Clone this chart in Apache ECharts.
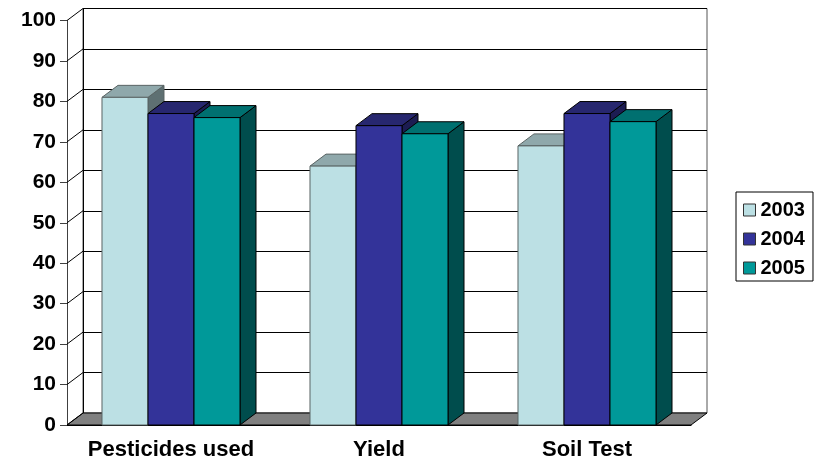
<!DOCTYPE html>
<html>
<head>
<meta charset="utf-8">
<script src="https://cdn.jsdelivr.net/npm/echarts@6/dist/echarts.min.js"></script>
<style>
  html, body { margin: 0; padding: 0; background: #fff; }
  #main { width: 825px; height: 464px; }
</style>
</head>
<body>
<div id="main"></div>
<script>
var categories = ['Pesticides used', 'Yield', 'Soil Test'];
var years = ['2003', '2004', '2005'];
var values2003 = [81, 64, 69];
var values2004 = [77, 74, 77];
var values2005 = [76, 72, 75];
var yTicks = [0, 10, 20, 30, 40, 50, 60, 70, 80, 90, 100];

var seriesValues = [values2003, values2004, values2005];
var frontColors = ['#BCE0E4', '#333399', '#009999'];
var topColors = ['#8FA8AB', '#27276F', '#007070'];
var sideColors = ['#5E7072', '#1C1C52', '#004D4D'];
var edgeColors = ['#5a6464', '#000000', '#000000'];

// depth of the 3d look
var DX = 16, DY = 12;
var FONT = 'Arial, "Liberation Sans", sans-serif';

var dom = document.getElementById('main');
var myChart = echarts.init(dom);

function barRenderer(k) {
    return function (params, api) {
        var c = api.coord([api.value(0), api.value(1)]);
        var base = api.coord([api.value(0), 0]);
        var band = api.size([1, 0])[0];
        var bw = band * 0.2212;
        var x0 = c[0] - 1.5 * bw + k * bw;
        var yTop = c[1], yBot = base[1];
        var st = { stroke: edgeColors[k], lineWidth: 1 };
        return {
            type: 'group',
            children: [
                { type: 'polygon', shape: { points: [[x0 + bw, yTop], [x0 + bw + DX, yTop - DY], [x0 + bw + DX, yBot - DY], [x0 + bw, yBot]] },
                  style: Object.assign({ fill: sideColors[k] }, st) },
                { type: 'polygon', shape: { points: [[x0, yTop], [x0 + bw, yTop], [x0 + bw + DX, yTop - DY], [x0 + DX, yTop - DY]] },
                  style: Object.assign({ fill: topColors[k] }, st) },
                { type: 'rect', shape: { x: x0, y: yTop, width: bw, height: yBot - yTop },
                  style: Object.assign({ fill: frontColors[k] }, st) }
            ]
        };
    };
}

var series = [];
// floor
series.push({
    type: 'custom',
    name: 'floor',
    z: 1,
    silent: true,
    data: [[0, 0]],
    renderItem: function (params, api) {
        var cs = params.coordSys;
        var yb = cs.y + cs.height;
        return {
            type: 'polygon',
            shape: { points: [[cs.x, yb], [cs.x + cs.width, yb], [cs.x + cs.width + DX, yb - DY], [cs.x + DX, yb - DY]] },
            style: { fill: '#808080', stroke: '#000', lineWidth: 1 }
        };
    }
});
// side wall diagonals
series.push({
    type: 'custom',
    name: 'wall',
    z: 1,
    silent: true,
    data: yTicks.map(function (v) { return [0, v]; }),
    renderItem: function (params, api) {
        var cs = params.coordSys;
        var y = api.coord([0, api.value(1)])[1];
        return {
            type: 'line',
            shape: { x1: cs.x, y1: y, x2: cs.x + DX, y2: y - DY },
            style: { stroke: '#000', lineWidth: 1 }
        };
    }
});
for (var k = 0; k < 3; k++) {
    series.push({
        type: 'custom',
        name: years[k],
        z: 3,
        itemStyle: { color: frontColors[k] },
        encode: { x: 0, y: 1 },
        data: seriesValues[k].map(function (v, i) { return [i, v]; }),
        renderItem: barRenderer(k)
    });
}

var option = {
    animation: false,
    backgroundColor: '#fff',
    grid: [
        { left: 67, right: 134, top: 20.5, bottom: 39 },
        { left: 83, right: 118, top: 8.5, bottom: 51, show: true, borderColor: '#555', borderWidth: 1, backgroundColor: 'transparent' }
    ],
    xAxis: [
        {
            type: 'category', gridIndex: 0, data: categories,
            axisLine: { lineStyle: { color: '#000' } },
            axisTick: { length: 7, lineStyle: { color: '#000' } },
            axisLabel: { interval: 0, color: '#000', fontFamily: FONT, fontWeight: 'bold', fontSize: 22, margin: 14 }
        },
        { type: 'category', gridIndex: 1, data: categories, show: false }
    ],
    yAxis: [
        {
            type: 'value', gridIndex: 0, min: 0, max: 100, interval: 10,
            axisLine: { show: true, lineStyle: { color: '#404040' } },
            axisTick: { show: true, length: 7, lineStyle: { color: '#404040' } },
            splitLine: { show: false },
            axisLabel: { color: '#000', fontFamily: FONT, fontWeight: 'bold', fontSize: 21, margin: 11 }
        },
        {
            type: 'value', gridIndex: 1, min: 0, max: 100, interval: 10,
            axisLine: { show: true, lineStyle: { color: '#000' } },
            axisTick: { show: false },
            axisLabel: { show: false },
            splitLine: { show: true, lineStyle: { color: '#000', width: 1 } }
        }
    ],
    legend: {
        orient: 'vertical',
        left: 736, top: 192,
        padding: [8, 8, 3, 7],
        itemWidth: 12, itemHeight: 12, itemGap: 9,
        borderColor: '#000', borderWidth: 1,
        textStyle: { color: '#000', fontFamily: FONT, fontWeight: 'bold', fontSize: 20 },
        data: years.map(function (y, i) {
            return { name: y, icon: 'rect', itemStyle: { color: frontColors[i], borderColor: '#333', borderWidth: 1 } };
        })
    },
    series: series
};

myChart.setOption(option, true);
</script>
</body>
</html>
